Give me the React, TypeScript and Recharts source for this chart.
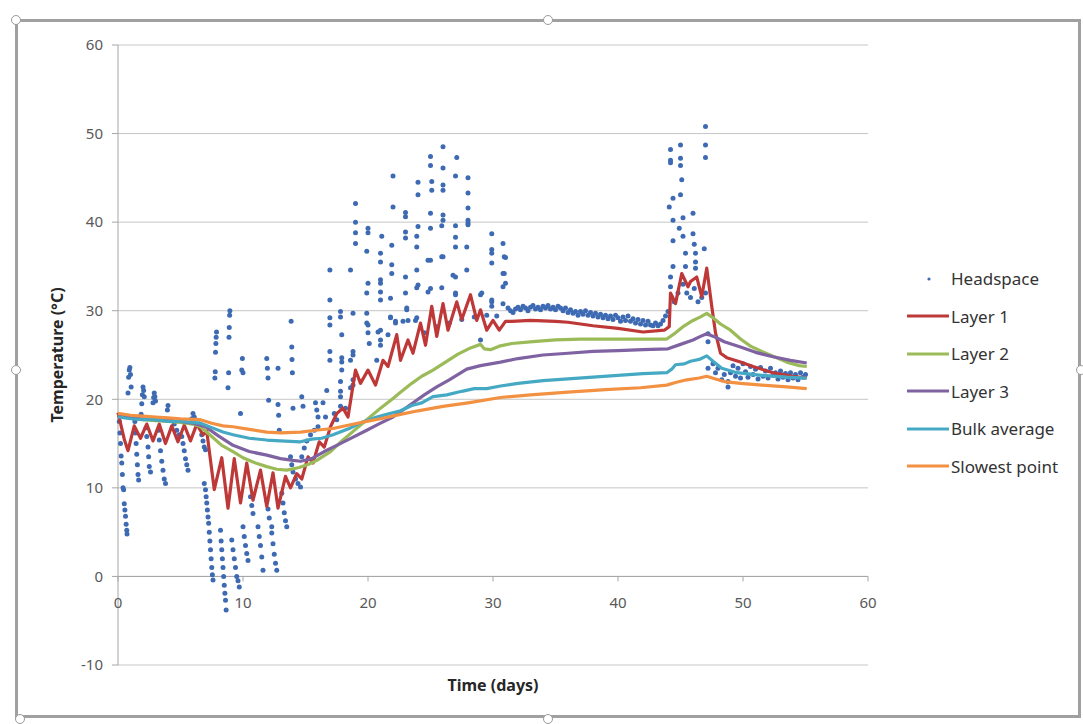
import React from "react"
import {
  ScatterChart,
  Scatter,
  XAxis,
  YAxis,
  CartesianGrid,
  ReferenceLine,
  Legend,
} from "recharts"

// x ticks / y ticks
const xTicks = [0, 10, 20, 30, 40, 50, 60]
const yTicks = [-10, 0, 10, 20, 30, 40, 50, 60]

// Headspace readings [day, degC]
const headspace: [number, number][] = [
  // days 0-7
  [0.1, 17.5], [0.15, 16.2], [0.2, 15], [0.25, 13.6], [0.3, 12.8], [0.35, 11.5], [0.4, 10], [0.45, 9.8],
  [0.5, 8.2], [0.55, 7.5], [0.6, 6.8], [0.65, 5.9], [0.7, 5.2], [0.72, 4.8],
  [0.8, 20.7], [0.85, 22.5], [0.9, 23.3], [0.95, 23.6], [1.0, 22.8], [1.05, 21.4],
  [1.35, 17.5], [1.4, 16.2], [1.45, 15], [1.5, 13.8], [1.55, 12.6], [1.6, 11.5], [1.65, 10.9],
  [1.85, 18.3], [1.9, 19.5], [1.95, 20.5], [2.0, 21.4], [2.05, 21.0], [2.1, 20.3],
  [2.25, 16.8], [2.3, 15.8], [2.4, 14.6], [2.45, 13.5], [2.5, 12.4], [2.6, 11.8],
  [2.8, 19.6], [2.85, 20.2], [2.9, 20.7], [2.95, 20.3], [3.0, 19.8],
  [3.25, 16.5], [3.3, 15.4], [3.4, 14.2], [3.5, 13], [3.6, 12], [3.7, 11], [3.8, 10.5],
  [3.95, 18.8], [4.0, 19.3], [4.3, 17.6], [4.5, 17.2], [4.7, 16.5], [4.9, 16],
  [5.1, 15.8], [5.2, 15], [5.3, 14.2], [5.4, 13.3], [5.5, 12.6], [5.6, 12],
  [5.9, 17.8], [6.0, 18.4], [6.1, 18], [6.5, 17.2], [6.7, 16], [6.8, 15.3], [6.9, 14.6], [7.0, 14.3],
  // days 7-16
  [6.9, 10.5], [7.0, 9.8], [7.05, 9], [7.1, 8.3], [7.15, 7.5], [7.2, 6.7], [7.25, 6], [7.3, 5],
  [7.35, 4], [7.4, 3], [7.45, 2], [7.5, 1], [7.55, 0.2], [7.6, -0.4],
  [7.75, 22.4], [7.78, 23.1], [7.8, 25.3], [7.83, 26.3], [7.85, 27.0], [7.88, 27.6],
  [8.2, 5.2], [8.25, 4], [8.3, 3], [8.35, 2], [8.4, 1], [8.45, 0], [8.5, -1], [8.55, -1.9], [8.6, -2.7], [8.65, -3.8],
  [8.8, 21.3], [8.85, 23], [8.88, 27], [8.9, 28.1], [8.93, 29.5], [8.95, 30],
  [9.1, 4.1], [9.2, 3], [9.3, 2], [9.4, 1], [9.5, 0], [9.6, -0.5], [9.7, -1.2],
  [9.8, 18.4], [9.9, 23.3], [9.95, 24.6], [10.0, 23],
  [10.0, 5.6], [10.1, 4.5], [10.2, 3.5], [10.3, 2.6], [10.4, 1.8],
  [10.6, 9], [10.7, 8], [10.8, 7.1],
  [11.2, 5.6], [11.3, 4.5], [11.4, 3.5], [11.5, 2.2], [11.6, 0.7],
  [11.9, 24.6], [11.95, 23.5], [12.0, 22.4], [12.05, 19.9],
  [11.9, 8.6], [12.0, 7.6], [12.1, 6.6], [12.3, 5.6],
  [12.3, 4.9], [12.4, 3.7], [12.5, 2.5], [12.6, 1.5], [12.7, 0.7],
  [12.8, 23.5], [12.8, 19.4], [12.85, 18.2], [12.9, 16.5],
  [13.1, 9.4], [13.2, 8.3], [13.3, 7.2], [13.4, 6.3], [13.5, 5.6],
  [13.8, 13.5], [13.9, 12.6], [14.0, 11.8], [14.2, 11], [14.4, 10.5], [14.6, 10.1],
  [13.85, 28.8], [13.9, 25.9], [13.92, 24.5], [13.95, 23], [14.0, 19],
  [14.7, 13.5], [14.9, 14.5], [15.1, 15.3], [15.4, 16], [15.7, 16.5], [16.0, 16.9],
  [14.7, 20.3], [14.8, 19.2], [15.8, 19.6], [15.9, 18.8], [16.0, 18], [16.4, 19.6], [16.6, 18],
  // days 16.5-31
  [16.7, 21.0], [16.95, 34.6], [16.95, 31.2], [16.95, 29.2], [16.95, 28.4], [16.95, 25.4], [16.95, 24.4],
  [17.3, 18.4], [17.5, 17.7],
  [17.8, 29.9], [17.8, 29.3], [17.9, 27.3], [17.9, 24.7], [17.9, 24.2], [17.9, 23.3], [17.8, 22.0],
  [17.8, 20.9], [17.8, 20.3], [17.8, 19.2], [18.2, 19.0],
  [18.6, 34.6], [18.8, 29.7], [18.8, 25.4], [18.8, 25.0], [18.6, 24.4], [18.8, 22.2], [18.8, 21.6], [18.6, 21.3],
  [19.0, 42.1], [19.0, 40.0], [19.0, 38.8], [19.0, 37.6],
  [20.0, 39.3], [20.0, 38.8], [19.9, 36.7], [20.0, 33.1], [19.9, 32.0], [19.9, 29.7], [19.9, 28.6],
  [20.0, 28.4], [20.0, 27.5], [20.1, 26.3],
  [21.1, 38.4], [21.0, 36.5], [21.0, 35.5], [21.0, 33.5], [21.0, 33.1], [21.0, 32.1], [21.0, 31.2],
  [21.0, 27.8], [21.0, 26.7], [21.0, 26.1], [20.7, 24.4], [20.8, 27.6],
  [22.0, 45.2], [22.0, 41.7], [21.9, 37.4], [21.9, 35.2], [21.9, 34.2], [21.8, 31.4], [21.8, 29.3],
  [21.8, 29.2], [22.2, 28.8], [21.6, 27.3], [22.2, 28.6],
  [23.0, 41.1], [23.0, 40.6], [23.0, 38.9], [23.0, 38.2], [23.0, 33.8], [23.0, 32.0], [23.1, 30.3],
  [23.2, 28.9], [22.8, 28.8], [23.1, 30.1],
  [24.0, 44.5], [24.0, 43.1], [24.0, 39.5], [23.9, 38.4], [23.9, 37.2], [23.9, 34.6], [23.9, 32.6],
  [23.9, 29.2], [23.8, 28.9], [24.0, 32.9],
  [25.0, 47.4], [25.0, 46.4], [25.1, 44.6], [25.1, 43.6], [25.0, 41.0], [25.0, 39.3], [24.8, 35.7],
  [24.8, 32.1], [25.0, 32.5], [25.0, 35.7],
  [26.0, 48.5], [26.0, 46.1], [26.0, 44.2], [26.0, 43.6], [26.0, 40.8], [26.0, 40.2], [25.9, 39.6],
  [25.9, 36.1], [25.9, 32.6], [26.0, 36.1],
  [27.1, 47.3], [27.0, 45.2], [27.0, 39.6], [27.0, 38.3], [27.0, 37.2], [27.0, 33.8], [27.0, 32.0],
  [26.8, 34.0], [27.0, 31.8],
  [28.0, 45.0], [28.0, 43.3], [28.0, 41.6], [28.0, 40.2], [28.0, 39.9], [28.0, 39.7], [27.9, 37.2], [27.9, 34.6],
  [29.0, 31.8], [29.0, 26.7], [29.1, 32.0],
  [29.9, 38.7], [29.9, 36.9], [29.9, 36.5], [29.9, 35.4], [29.9, 31.0], [29.9, 31.2], [29.9, 30.5],
  [30.8, 37.6], [30.9, 36.1], [30.9, 34.2], [31.0, 33.1], [30.8, 30.8], [30.8, 34.2], [30.8, 32.7],
  [31.0, 36.0],
  [24.5, 27.5], [25.5, 28.2], [26.5, 28.6], [27.5, 29.0], [28.5, 29.3], [29.5, 29.5], [30.3, 29.4],
  // days 31-44 dense band
  [31.2, 30.3], [31.4, 30.0], [31.6, 29.8], [31.8, 30.2], [32.0, 30.4], [32.2, 30.1], [32.4, 30.5],
  [32.6, 30.3], [32.8, 30.0], [33.0, 30.4], [33.2, 30.6], [33.4, 30.2], [33.6, 30.4], [33.8, 30.1],
  [34.0, 30.5], [34.2, 30.3], [34.4, 30.6], [34.6, 30.2], [34.8, 30.4], [35.0, 30.1], [35.2, 30.5],
  [35.4, 30.3], [35.6, 30.0], [35.8, 30.3], [36.0, 29.8], [36.2, 30.1], [36.4, 29.7], [36.6, 29.9],
  [36.8, 29.5], [37.0, 29.9], [37.2, 29.6], [37.4, 30.0], [37.6, 29.5], [37.8, 29.8], [38.0, 29.4],
  [38.2, 29.7], [38.4, 29.3], [38.6, 29.6], [38.8, 29.2], [39.0, 29.5], [39.2, 29.1], [39.4, 29.4],
  [39.6, 29.0], [39.8, 29.5], [40.0, 29.2], [40.2, 28.8], [40.4, 29.3], [40.6, 28.9], [40.8, 29.4],
  [41.0, 28.8], [41.2, 29.1], [41.4, 28.6], [41.6, 29.0], [41.8, 28.5], [42.0, 28.9], [42.2, 28.4],
  [42.4, 28.8], [42.6, 28.4], [42.8, 28.3], [43.0, 28.6], [43.2, 28.3], [43.4, 28.5], [43.6, 28.9],
  [43.8, 29.4], [44.0, 29.9],
  // days 44-47.5
  [44.2, 48.2], [44.2, 47.0], [44.2, 46.7], [44.1, 41.7], [44.2, 33.8], [44.2, 32.7], [44.4, 42.7],
  [44.4, 40.2], [44.4, 37.9], [44.4, 35.0], [45.0, 48.7], [45.0, 47.2], [45.0, 46.4], [45.1, 44.8],
  [45.0, 43.1], [44.9, 39.3], [45.2, 40.5], [45.2, 38.4], [45.4, 36.5], [45.4, 35.0], [46.0, 41.0],
  [46.0, 38.7], [46.1, 37.5], [46.2, 36.5], [46.2, 35.5], [46.2, 34.8], [46.9, 37.0], [47.0, 50.8],
  [47.0, 48.7], [47.0, 47.3], [47.2, 27.4], [47.2, 26.5], [47.2, 23.5], [48.8, 21.4],
  [44.3, 31.5], [44.5, 31.0], [44.8, 32.0], [45.2, 33.0], [45.5, 32.0], [45.8, 31.5], [46.1, 32.5],
  [46.4, 31.0], [46.7, 31.5], [47.0, 32.0],
  // days 47.5-55
  [47.6, 24.0], [47.8, 23.0], [48.0, 23.5], [48.3, 22.2], [48.5, 22.8], [48.8, 22.0], [49.0, 23.0],
  [49.2, 23.8], [49.4, 22.6], [49.6, 23.5], [49.8, 22.4], [50.0, 24.0], [50.2, 23.1], [50.4, 22.5],
  [50.6, 23.7], [50.8, 22.8], [51.0, 23.4], [51.2, 22.3], [51.4, 23.6], [51.6, 22.6], [51.8, 23.2],
  [52.0, 22.4], [52.2, 23.5], [52.4, 22.7], [52.6, 23.0], [52.8, 22.3], [53.0, 23.2], [53.2, 22.5],
  [53.4, 22.9], [53.6, 22.2], [53.8, 23.0], [54.0, 22.4], [54.2, 22.8], [54.4, 22.2], [54.6, 23.0],
  [54.8, 22.5], [55.0, 22.8],
]

const layer1: [number, number][] = [
  [0, 18.5], [0.5, 15.5], [0.8, 14.2], [1.3, 17.0], [1.8, 15.6], [2.3, 17.2], [2.8, 15.3], [3.3, 17.2],
  [3.8, 15.0], [4.3, 17.0], [4.8, 15.2], [5.3, 17.1], [5.8, 15.3], [6.3, 17.2], [6.8, 16.0], [7.1, 16.4],
  [7.7, 9.8], [8.3, 13.4], [8.8, 7.7], [9.3, 13.3], [9.8, 8.3], [10.3, 12.8], [10.8, 8.6], [11.4, 12.0],
  [11.9, 7.9], [12.4, 11.7], [12.8, 7.7], [13.4, 11.3], [13.8, 10.0], [14.3, 11.6], [14.7, 11.0],
  [15.2, 13.5], [15.6, 12.8], [16.1, 15.2], [16.5, 14.6], [17.0, 16.9], [17.5, 18.4], [18.0, 19.0],
  [18.4, 18.0], [19.0, 23.3], [19.4, 21.8], [20.0, 23.3], [20.6, 21.6], [21.2, 24.4], [21.6, 23.7],
  [22.3, 27.3], [22.6, 24.4], [23.2, 26.7], [23.6, 25.2], [24.2, 28.6], [24.6, 26.1], [25.1, 30.5],
  [25.5, 27.1], [26.0, 30.8], [26.4, 27.8], [27.1, 31.0], [27.5, 29.0], [28.2, 31.8], [28.7, 28.9],
  [29.0, 30.1], [29.5, 27.8], [30.0, 28.9], [30.5, 27.8], [31.0, 28.8], [31.5, 28.8], [33, 28.9],
  [35, 28.8], [36, 28.7], [38, 28.3], [40, 28.0], [42, 27.6], [43.7, 27.8], [44.1, 28.2], [44.2, 32.0],
  [44.6, 30.8], [45.1, 34.2], [45.6, 32.7], [45.8, 33.3], [46.3, 33.8], [46.7, 31.6], [47.1, 34.8],
  [47.5, 30.5], [47.8, 27.5], [48.2, 25.2], [48.7, 24.7], [49.8, 24.2], [50.8, 23.7], [52.4, 23.0],
  [54, 22.6], [55.1, 22.4],
]

const layer2: [number, number][] = [
  [0, 18.3], [1, 17.9], [2, 17.7], [3, 17.6], [4, 17.5], [5, 17.4], [6, 17.2], [6.6, 16.9], [7.5, 15.8],
  [8.3, 14.8], [9.2, 14.1], [10, 13.4], [11, 12.8], [11.9, 12.4], [12.7, 12.1], [13.5, 12.0], [14.5, 12.3],
  [15.3, 12.7], [15.9, 13.1], [17, 14.1], [18, 15.4], [19, 16.6], [20, 17.8], [21, 19.0], [22, 20.1],
  [22.6, 20.8], [23.5, 21.8], [24.3, 22.6], [25.2, 23.3], [26.2, 24.2], [27.2, 25.1], [28.2, 25.8],
  [29.0, 26.2], [29.3, 25.7], [29.8, 25.6], [30.5, 26.0], [31.5, 26.3], [33.2, 26.5], [35, 26.7],
  [37, 26.8], [40, 26.8], [42, 26.8], [43.9, 26.8], [44.6, 27.5], [45.3, 28.3], [46, 28.9], [46.6, 29.3],
  [47.1, 29.7], [47.6, 29.2], [48.2, 28.5], [49, 27.8], [49.8, 26.8], [50.6, 26], [51.5, 25.4],
  [52.5, 24.8], [53.5, 24.2], [54.5, 23.8], [55.1, 23.7],
]

const layer3: [number, number][] = [
  [0, 18.2], [1, 17.9], [2, 17.8], [3, 17.7], [4, 17.6], [5, 17.5], [6, 17.3], [7, 16.9], [8, 15.9],
  [9.2, 14.8], [10.5, 14.1], [11.9, 13.7], [13, 13.3], [14, 13.1], [14.6, 13.0], [15.5, 13.3],
  [16.5, 14.1], [17.5, 14.8], [18.5, 15.5], [19.9, 16.5], [21, 17.3], [22, 18.0], [22.6, 18.6],
  [23.5, 19.5], [24.5, 20.5], [25.5, 21.4], [26.5, 22.2], [27.9, 23.4], [29, 23.8], [30.6, 24.2],
  [32, 24.6], [34, 25.0], [36, 25.2], [38, 25.4], [40, 25.5], [42, 25.6], [44, 25.7], [45, 26.2],
  [46, 26.7], [46.6, 27.1], [47.1, 27.4], [47.8, 27], [48.5, 26.5], [49.8, 25.9], [51, 25.3],
  [52.4, 24.8], [53.8, 24.4], [55.1, 24.1],
]

const bulkAverage: [number, number][] = [
  [0, 18.0], [1, 17.8], [2, 17.7], [3, 17.7], [4, 17.5], [5, 17.5], [6, 17.4], [6.6, 17.3], [7.5, 16.8],
  [8.4, 16.3], [9.2, 16.0], [10.5, 15.6], [11.9, 15.4], [13, 15.3], [14.6, 15.2], [15.5, 15.5],
  [16.3, 15.6], [17.2, 16.0], [18.5, 16.7], [19.5, 17.4], [20.5, 17.9], [21.5, 18.3], [22.6, 18.7],
  [23.5, 19.3], [24.3, 19.6], [25.2, 20.3], [26.3, 20.5], [27.5, 20.9], [28.5, 21.2], [29.5, 21.2],
  [30.6, 21.5], [32, 21.8], [34, 22.1], [36, 22.3], [38, 22.5], [40, 22.7], [42, 22.9], [43.9, 23.0],
  [44.3, 23.4], [44.6, 23.9], [45.3, 24.0], [45.8, 24.3], [46.5, 24.5], [47.1, 24.9], [47.6, 24.3],
  [48.3, 23.5], [49.5, 23.0], [51.5, 22.7], [53.5, 22.5], [55.1, 22.4],
]

const slowestPoint: [number, number][] = [
  [0, 18.4], [1, 18.2], [2, 18.1], [3, 18.0], [4, 17.9], [5, 17.8], [6.6, 17.7], [7.5, 17.3],
  [8.4, 17.0], [9.2, 16.9], [10.5, 16.6], [11.9, 16.3], [13, 16.2], [14.6, 16.3], [15.8, 16.5],
  [17.2, 16.7], [18.5, 17.1], [19.9, 17.5], [21, 17.8], [22.6, 18.3], [24, 18.7], [26, 19.2],
  [28, 19.6], [30.6, 20.2], [33, 20.5], [36, 20.8], [39, 21.1], [41.8, 21.3], [43.9, 21.6],
  [44.6, 21.9], [45.5, 22.2], [46.5, 22.4], [47.1, 22.6], [47.8, 22.3], [48.5, 22.0], [49.8, 21.8],
  [51.5, 21.6], [53.5, 21.4], [55.1, 21.2],
]

const BLUE = "#3d6ab2"
const RED = "#be3838"
const GREEN = "#9bbb59"
const PURPLE = "#7f62a1"
const AQUA = "#46a9c4"
const ORANGE = "#f39142"

const lineSeries = [
  { name: "Layer 1", data: layer1, color: RED },
  { name: "Layer 2", data: layer2, color: GREEN },
  { name: "Layer 3", data: layer3, color: PURPLE },
  { name: "Bulk average", data: bulkAverage, color: AQUA },
  { name: "Slowest point", data: slowestPoint, color: ORANGE },
]

const toPoints = (arr: [number, number][]) => arr.map(([x, y]) => ({ x, y }))

const FONT = "'Noto Sans', sans-serif"
const Y_MIN = -10
const Y_MAX = 60
const PLOT_TOP = 45
const PLOT_BOTTOM = 665
// pixel position of y = 0, where Excel draws the horizontal axis
const ZERO_Y = PLOT_BOTTOM - ((PLOT_BOTTOM - PLOT_TOP) * (0 - Y_MIN)) / (Y_MAX - Y_MIN)

function XTick({ x, payload }: any) {
  return (
    <g>
      <line x1={x} x2={x} y1={ZERO_Y} y2={ZERO_Y + 5} stroke="#a6a6a6" />
      <text x={x} y={ZERO_Y + 32} textAnchor="middle" fill="#595959" fontSize={15} fontFamily={FONT}>
        {payload.value}
      </text>
    </g>
  )
}

function DotShape({ cx, cy }: any) {
  return <circle cx={cx} cy={cy} r={2.5} fill={BLUE} />
}

const NoShape = () => <g />

function LegendBox() {
  const rowH = 37.5
  return (
    <div style={{ fontFamily: FONT, fontSize: 17, color: "#333" }}>
      <div style={{ display: "flex", alignItems: "center", height: rowH }}>
        <svg width={46} height={10}>
          <circle cx={24} cy={5} r={1.6} fill={BLUE} />
        </svg>
        <span>Headspace</span>
      </div>
      {lineSeries.map((s) => (
        <div key={s.name} style={{ display: "flex", alignItems: "center", height: rowH }}>
          <svg width={46} height={10}>
            <line x1={2} x2={44} y1={5} y2={5} stroke={s.color} strokeWidth={3.2} />
          </svg>
          <span>{s.name}</span>
        </div>
      ))}
    </div>
  )
}

const handles = [
  [16, 20], [548, 20], [16, 370], [1081, 370], [20, 719], [548, 719],
]

export default function App() {
  return (
    <div style={{ position: "absolute", left: 0, top: 0, width: 1083, height: 724, background: "#fff" }}>
      <div
        style={{
          position: "absolute",
          left: 15,
          top: 19,
          width: 1066,
          height: 699,
          border: "3px solid #a0a0a0",
          boxSizing: "border-box",
        }}
      />
      <div style={{ position: "absolute", left: 0, top: 0 }}>
        <ScatterChart width={1083} height={724} margin={{ top: 45, right: 215, bottom: 0, left: 0 }}>
          <CartesianGrid horizontal vertical={false} stroke="#c6c6c6" />
          <XAxis
            type="number"
            dataKey="x"
            domain={[0, 60]}
            ticks={xTicks}
            height={59}
            axisLine={false}
            tickLine={false}
            tick={<XTick />}
            interval={0}
            label={{
              content: ({ viewBox }: any) => (
                <text
                  x={viewBox.x + viewBox.width / 2}
                  y={viewBox.y + 26}
                  textAnchor="middle"
                  fontFamily={FONT}
                  fontWeight="bold"
                  fontSize={16}
                  fill="#262626"
                >
                  Time (days)
                </text>
              ),
            }}
          />
          <YAxis
            type="number"
            dataKey="y"
            domain={[Y_MIN, Y_MAX]}
            ticks={yTicks}
            width={118}
            interval={0}
            axisLine={{ stroke: "#a6a6a6" }}
            tickLine={{ stroke: "#a6a6a6" }}
            tickSize={6}
            tickMargin={9}
            tick={{ fill: "#595959", fontSize: 15, fontFamily: FONT }}
            label={{
              content: ({ viewBox }: any) => {
                const cx = 57
                const cy = viewBox.y + viewBox.height / 2
                return (
                  <text
                    x={cx}
                    y={cy}
                    transform={`rotate(-90 ${cx} ${cy})`}
                    textAnchor="middle"
                    dominantBaseline="central"
                    fontFamily={FONT}
                    fontWeight="bold"
                    fontSize={16}
                    fill="#262626"
                  >
                    Temperature (°C)
                  </text>
                )
              },
            }}
          />
          <ReferenceLine y={0} stroke="#a6a6a6" />
          <Legend
            layout="vertical"
            align="center"
            verticalAlign="middle"
            content={<LegendBox />}
            wrapperStyle={{ position: "absolute", left: 905, top: 260, width: 178 }}
          />
          <Scatter
            name="Headspace"
            data={toPoints(headspace)}
            fill={BLUE}
            shape={<DotShape />}
            isAnimationActive={false}
          />
          {lineSeries.map((s) => (
            <Scatter
              key={s.name}
              name={s.name}
              data={toPoints(s.data)}
              fill={s.color}
              line={{ stroke: s.color, strokeWidth: 3.2, strokeLinejoin: "round" }}
              lineType="joint"
              shape={<NoShape />}
              isAnimationActive={false}
            />
          ))}
        </ScatterChart>
      </div>
      {handles.map(([hx, hy], i) => (
        <div
          key={i}
          style={{
            position: "absolute",
            left: hx - 5,
            top: hy - 5,
            width: 10,
            height: 10,
            borderRadius: "50%",
            border: "1.5px solid #9a9a9a",
            background: "#fff",
            boxSizing: "border-box",
          }}
        />
      ))}
    </div>
  )
}
